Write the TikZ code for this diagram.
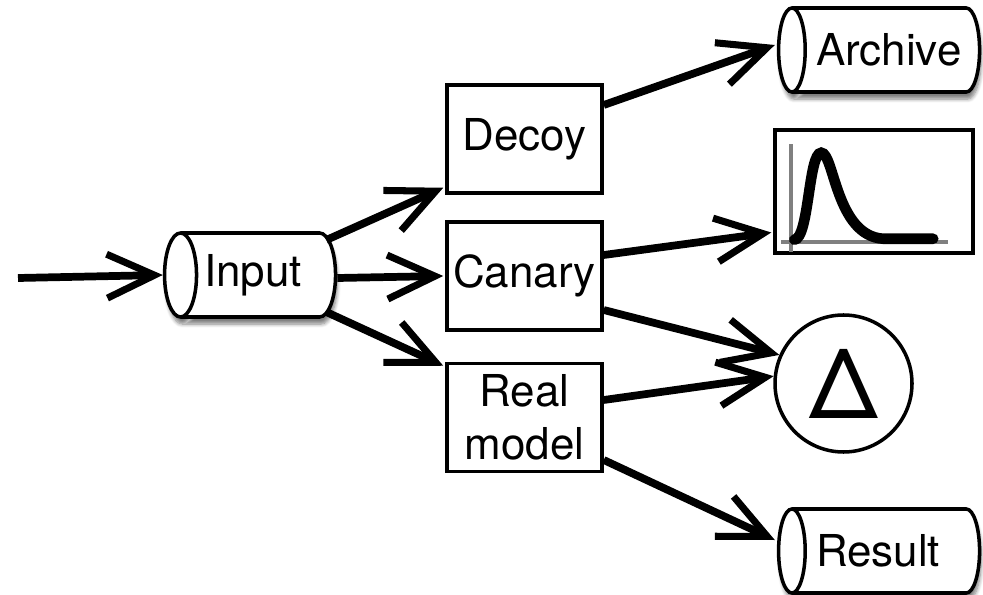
\documentclass[tikz,border=0pt]{standalone}
\usepackage{fontspec}
\setmainfont{TeX Gyre Heros}
\usetikzlibrary{shapes.geometric, arrows.meta, positioning, calc, shadows.blur}

\begin{document}
\begin{tikzpicture}[
  flow/.style={-{Straight Barb[length=27pt, width=25pt, line width=4pt]}, line width=4.4pt, black},
  stagebox/.style={draw, rectangle, line width=2pt, minimum width=3.1cm, minimum height=2.16cm, align=center, font=\fontsize{25}{30}\selectfont},
  store/.style={draw, cylinder, shape border rotate=180, shape aspect=0.6, line width=2pt, fill=white,
    minimum height=4.02cm, minimum width=1.68cm, inner xsep=1pt, text width=2.96cm, align=left, font=\fontsize{25}{30}\selectfont,
    blur shadow={shadow xshift=1pt, shadow yshift=-4pt, shadow blur steps=6, shadow opacity=50}},
  diffnode/.style={draw, circle, line width=2pt, minimum size=2.74cm, inner sep=0pt, font=\fontsize{55}{60}\selectfont}
]
\useasboundingbox (0,0) rectangle (19.66,-11.9);

% incoming data and input store
\coordinate     (Src)    at (0.36,-5.56);
\node[store, minimum height=3.42cm, text width=2.36cm] (Input) at (5.26,-5.5) {Input};

% three models
\node[stagebox] (Decoy)  at (10.49,-2.78) {Decoy};
\node[stagebox] (Canary) at (10.49,-5.52) {Canary};
\node[stagebox] (Real)   at (10.49,-8.35) {Real\\model};

% outputs
\node[store]    (Archive) at (17.80,-1.0)  {Archive};
\node[draw, rectangle, line width=2pt, minimum width=3.96cm, minimum height=2.46cm] (Chart) at (17.48,-3.83) {};
\node[diffnode] (Delta)   at (16.87,-7.67) {Δ};
\node[store]    (Result)  at (17.80,-11.02) {Result};

% little plot inside the chart box
\begin{scope}[shift={(Chart.south west)}]
  \draw[gray, line width=2.2pt] (0.36,0.06) -- (0.36,2.22);
  \draw[gray, line width=2.2pt] (0.16,0.26) -- (3.5,0.26);
  \draw[line width=6pt, line cap=round] (0.42,0.3) .. controls (0.72,0.32) and (0.7,2.04) .. (0.96,2.04)
    .. controls (1.22,2.04) and (1.25,0.38) .. (2.2,0.32) -- (3.2,0.32);
\end{scope}

% flows
\draw[flow] (Src) -- (Input.west);
\draw[flow] ([xshift=-0.22cm, yshift=0.7cm]Input.east) -- ([xshift=-0.04cm, yshift=0.14cm]Decoy.south west);
\draw[flow] ([xshift=0cm, yshift=-0.06cm]Input.east) -- ([xshift=-0.04cm]Canary.west);
\draw[flow] ([xshift=-0.22cm, yshift=-0.74cm]Input.east) -- ([xshift=-0.04cm, yshift=-0.08cm]Real.north west);

\draw[flow] ([yshift=0.68cm]Decoy.east)   -- ([xshift=-0.04cm, yshift=0.1cm]Archive.west);
\draw[flow] ([yshift=0.42cm]Canary.east)  -- ([xshift=-0.04cm, yshift=-0.82cm]Chart.west);
\draw[flow] ([yshift=-0.68cm]Canary.east) -- (Delta.156);
\draw[flow] ([yshift=0.35cm]Real.east)    -- (Delta.174);
\draw[flow] ([yshift=-0.85cm]Real.east)   -- ([xshift=-0.04cm, yshift=0.22cm]Result.west);

\end{tikzpicture}
\end{document}
